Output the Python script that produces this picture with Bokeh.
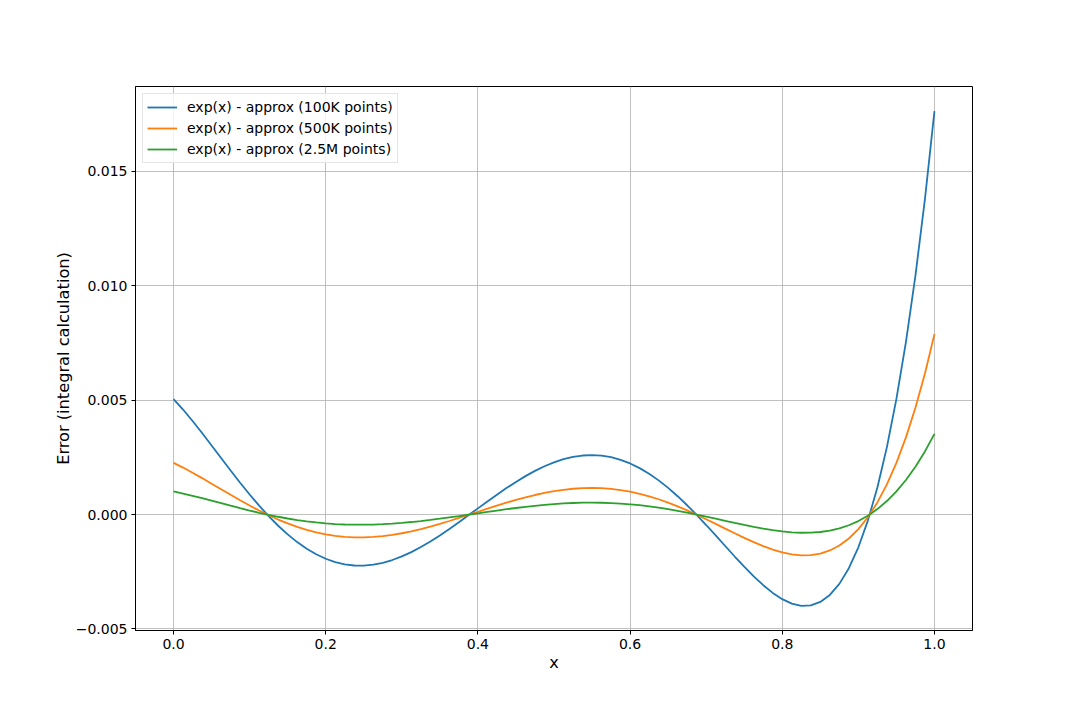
from bokeh.plotting import figure
from bokeh.models import Range1d, FixedTicker, Legend, LegendItem
from bokeh.embed import file_html
from bokeh.resources import INLINE

x_vals = [0.0, 0.0125, 0.025, 0.0375, 0.05, 0.0625, 0.075, 0.0875, 0.1, 0.1125,
          0.125, 0.1375, 0.15, 0.1625, 0.175, 0.1875, 0.2, 0.2125, 0.225, 0.2375,
          0.25, 0.2625, 0.275, 0.2875, 0.3, 0.3125, 0.325, 0.3375, 0.35, 0.3625,
          0.375, 0.3875, 0.4, 0.4125, 0.425, 0.4375, 0.45, 0.4625, 0.475, 0.4875,
          0.5, 0.5125, 0.525, 0.5375, 0.55, 0.5625, 0.575, 0.5875, 0.6, 0.6125,
          0.625, 0.6375, 0.65, 0.6625, 0.675, 0.6875, 0.7, 0.7125, 0.725, 0.7375,
          0.75, 0.7625, 0.775, 0.7875, 0.8, 0.8125, 0.825, 0.8375, 0.85, 0.8625,
          0.875, 0.8875, 0.9, 0.9125, 0.925, 0.9375, 0.95, 0.9625, 0.975, 0.9875,
          1.0]

err_100k = [0.005048, 0.004589, 0.004089, 0.003561, 0.003017, 0.002468, 0.001922,
            0.001388, 0.000874, 0.000386,
            -0.000071, -0.000491, -0.000870, -0.001206, -0.001496, -0.001739,
            -0.001934, -0.002080, -0.002178, -0.002228,
            -0.002232, -0.002192, -0.002110, -0.001989, -0.001832, -0.001642,
            -0.001423, -0.001179, -0.000914, -0.000632,
            -0.000338, -0.000036, 0.000268, 0.000571, 0.000868, 0.001155, 0.001426,
            0.001679, 0.001908, 0.002110,
            0.002281, 0.002418, 0.002518, 0.002579, 0.002598, 0.002574, 0.002505,
            0.002391, 0.002232, 0.002028,
            0.001781, 0.001492, 0.001163, 0.000800, 0.000404, -0.000017, -0.000459,
            -0.000915, -0.001377, -0.001836,
            -0.002281, -0.002703, -0.003089, -0.003426, -0.003699, -0.003893,
            -0.003991, -0.003974, -0.003822, -0.003516,
            -0.003032, -0.002346, -0.001433, -0.000266, 0.001183, 0.002946, 0.005054,
            0.007540, 0.010440, 0.013791,
            0.017632]

err_500k = [0.002257, 0.002052, 0.001829, 0.001592, 0.001349, 0.001104, 0.000860,
            0.000621, 0.000391, 0.000173,
            -0.000032, -0.000220, -0.000389, -0.000539, -0.000669, -0.000778,
            -0.000865, -0.000930, -0.000974, -0.000996,
            -0.000998, -0.000980, -0.000944, -0.000889, -0.000819, -0.000734,
            -0.000636, -0.000527, -0.000409, -0.000283,
            -0.000151, -0.000016, 0.000120, 0.000255, 0.000388, 0.000517, 0.000638,
            0.000751, 0.000853, 0.000944,
            0.001020, 0.001081, 0.001126, 0.001153, 0.001162, 0.001151, 0.001120,
            0.001069, 0.000998, 0.000907,
            0.000796, 0.000667, 0.000520, 0.000358, 0.000181, -0.000008, -0.000205,
            -0.000409, -0.000616, -0.000821,
            -0.001020, -0.001209, -0.001381, -0.001532, -0.001654, -0.001741,
            -0.001785, -0.001777, -0.001709, -0.001572,
            -0.001356, -0.001049, -0.000641, -0.000119, 0.000529, 0.001317, 0.002260,
            0.003372, 0.004669, 0.006167,
            0.007885]

err_2_5m = [0.001010, 0.000918, 0.000818, 0.000712, 0.000603, 0.000494, 0.000384,
            0.000278, 0.000175, 0.000077,
            -0.000014, -0.000098, -0.000174, -0.000241, -0.000299, -0.000348,
            -0.000387, -0.000416, -0.000436, -0.000446,
            -0.000446, -0.000438, -0.000422, -0.000398, -0.000366, -0.000328,
            -0.000285, -0.000236, -0.000183, -0.000126,
            -0.000068, -0.000007, 0.000054, 0.000114, 0.000174, 0.000231, 0.000285,
            0.000336, 0.000382, 0.000422,
            0.000456, 0.000484, 0.000504, 0.000516, 0.000520, 0.000515, 0.000501,
            0.000478, 0.000446, 0.000406,
            0.000356, 0.000298, 0.000233, 0.000160, 0.000081, -0.000003, -0.000092,
            -0.000183, -0.000275, -0.000367,
            -0.000456, -0.000541, -0.000618, -0.000685, -0.000740, -0.000779,
            -0.000798, -0.000795, -0.000764, -0.000703,
            -0.000606, -0.000469, -0.000287, -0.000053, 0.000237, 0.000589, 0.001011,
            0.001508, 0.002088, 0.002758,
            0.003526]

series_labels = ["exp(x) - approx (100K points)",
                 "exp(x) - approx (500K points)",
                 "exp(x) - approx (2.5M points)"]
series_colors = ["#1f77b4", "#ff7f0e", "#2ca02c"]

x_ticks = [0.0, 0.2, 0.4, 0.6, 0.8, 1.0]
x_tick_labels = ["0.0", "0.2", "0.4", "0.6", "0.8", "1.0"]
y_ticks = [-0.005, 0.0, 0.005, 0.01, 0.015]
y_tick_labels = ["\u22120.005", "0.000", "0.005", "0.010", "0.015"]

FONT = "DejaVu Sans"

p = figure(width=1064, height=704, output_backend="svg", toolbar_location=None,
           x_range=Range1d(-0.05, 1.05), y_range=Range1d(-0.00507, 0.01871),
           min_border_left=135, min_border_right=92,
           min_border_top=86, min_border_bottom=74)

p.background_fill_color = "white"
p.border_fill_color = "white"
p.outline_line_color = "black"
p.outline_line_width = 1

renderers = []
for ys, col in zip([err_100k, err_500k, err_2_5m], series_colors):
    r = p.line(x_vals, ys, line_color=col, line_width=1.8)
    renderers.append(r)

# axes
p.xaxis.ticker = FixedTicker(ticks=x_ticks)
p.xaxis.major_label_overrides = {t: s for t, s in zip(x_ticks, x_tick_labels)}
p.yaxis.ticker = FixedTicker(ticks=y_ticks)
p.yaxis.major_label_overrides = {t: s for t, s in zip(y_ticks, y_tick_labels)}

for ax in (p.xaxis, p.yaxis):
    ax.axis_line_color = "black"
    ax.major_tick_line_color = "black"
    ax.major_tick_out = 4
    ax.major_tick_in = 0
    ax.minor_tick_line_color = None
    ax.major_label_text_font = FONT
    ax.major_label_text_font_size = "14px"
    ax.major_label_text_color = "black"
    ax.major_label_standoff = 4
    ax.axis_label_text_font = FONT
    ax.axis_label_text_font_size = "16.2px"
    ax.axis_label_text_font_style = "normal"
    ax.axis_label_text_color = "black"

p.xaxis.axis_label = "x"
p.yaxis.axis_label = "Error (integral calculation)"
p.xaxis.axis_label_standoff = 1
p.yaxis.axis_label_standoff = 0

p.xgrid.ticker = FixedTicker(ticks=x_ticks)
p.ygrid.ticker = FixedTicker(ticks=y_ticks)
for g in (p.xgrid, p.ygrid):
    g.grid_line_color = "#b0b0b0"
    g.grid_line_width = 0.8

legend = Legend(items=[LegendItem(label=lab, renderers=[r])
                       for lab, r in zip(series_labels, renderers)],
                location="top_left")
legend.margin = 7
legend.padding = 4
legend.spacing = 3
legend.label_height = 18
legend.glyph_height = 18
legend.glyph_width = 30
legend.label_standoff = 10
legend.label_text_font = FONT
legend.label_text_font_size = "14px"
legend.label_text_color = "black"
legend.border_line_color = "#cccccc"
legend.border_line_width = 1
legend.background_fill_color = "white"
legend.background_fill_alpha = 0.8
p.add_layout(legend)

open("out.html", "w").write(file_html(p, INLINE))
